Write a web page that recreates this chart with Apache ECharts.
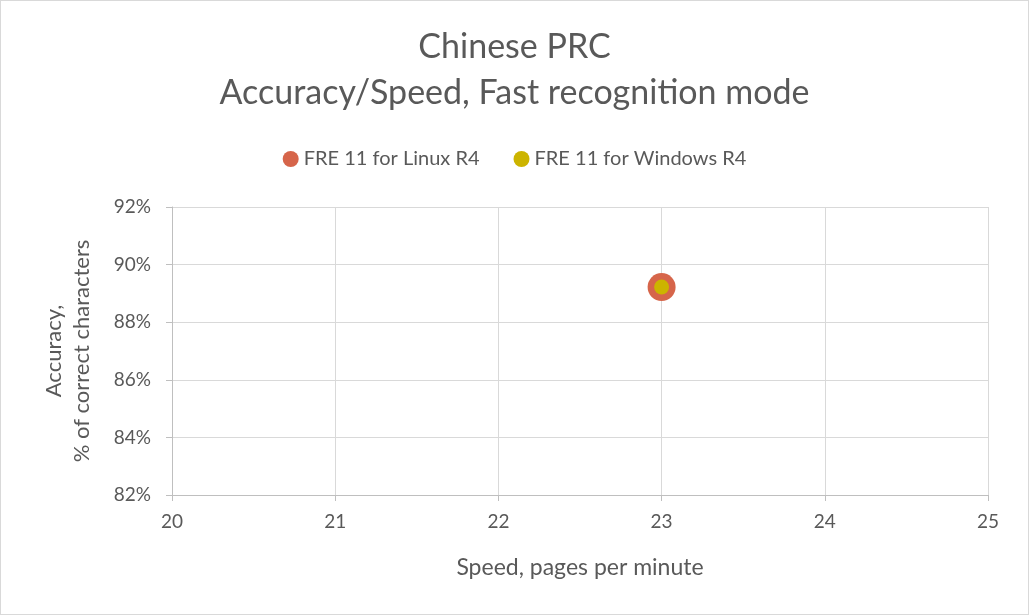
<!DOCTYPE html>
<html><head><meta charset="utf-8">
<script src="https://cdn.jsdelivr.net/npm/echarts@6/dist/echarts.min.js"></script>
<style>html,body{margin:0;padding:0;background:#fff}#c{width:1029px;height:615px;box-sizing:border-box;border:1px solid #d9d9d9}</style>
</head><body><div id="c"></div>
<script>
const seriesNames = ['FRE 11 for Linux R4', 'FRE 11 for Windows R4'];
const linuxPoints = [[23.0, 0.8922]];
const windowsPoints = [[23.0, 0.8922]];
const xTicks = [20, 21, 22, 23, 24, 25];
const yTicks = [0.82, 0.84, 0.86, 0.88, 0.90, 0.92];
const FONT = 'Lato, "Open Sans", sans-serif';
const chart = echarts.init(document.getElementById('c'));
chart.setOption({
  animation: false,
  textStyle: {fontFamily: FONT},
  title: {
    text: 'Chinese PRC\nAccuracy/Speed, Fast recognition mode',
    left: 'center', top: 18,
    textStyle: {fontFamily: FONT, fontSize: 34, fontWeight: 'normal', color: '#595959', lineHeight: 46}
  },
  legend: {
    top: 143, left: 'center', itemGap: 34, itemWidth: 16, itemHeight: 16,
    icon: 'circle',
    textStyle: {fontFamily: FONT, fontSize: 20, color: '#595959'},
    data: seriesNames
  },
  grid: {left: 171, right: 40, top: 206, bottom: 119},
  xAxis: {
    type: 'value', min: xTicks[0], max: xTicks[xTicks.length-1], interval: 1,
    name: 'Speed, pages per minute', nameLocation: 'middle', nameGap: 61,
    nameTextStyle: {fontFamily: FONT, fontSize: 23, color: '#595959'},
    axisLine: {show: true, lineStyle: {color: '#bfbfbf'}},
    axisTick: {show: true, length: 6, lineStyle: {color: '#bfbfbf'}},
    axisLabel: {fontFamily: FONT, fontSize: 19, color: '#595959', margin: 17},
    splitLine: {show: true, lineStyle: {color: '#d9d9d9'}}
  },
  yAxis: {
    type: 'value', min: 0.82, max: 0.92, interval: 0.02,
    name: 'Accuracy,\n% of correct characters', nameLocation: 'middle', nameGap: 76, nameRotate: 90,
    nameTextStyle: {fontFamily: FONT, fontSize: 22, color: '#595959', lineHeight: 28},
    axisLine: {show: true, lineStyle: {color: '#bfbfbf'}},
    axisTick: {show: true, length: 6, lineStyle: {color: '#bfbfbf'}},
    axisLabel: {fontFamily: FONT, fontSize: 19, color: '#595959', margin: 21,
      formatter: v => Math.round(v*100) + '%'},
    splitLine: {show: true, lineStyle: {color: '#d9d9d9'}}
  },
  series: [
    {name: seriesNames[0], type: 'scatter', data: linuxPoints, symbolSize: 28,
     itemStyle: {color: '#d6654a', opacity: 1}},
    {name: seriesNames[1], type: 'scatter', data: windowsPoints, symbolSize: 15,
     itemStyle: {color: '#ccb400', opacity: 1}}
  ]
});
</script></body></html>
